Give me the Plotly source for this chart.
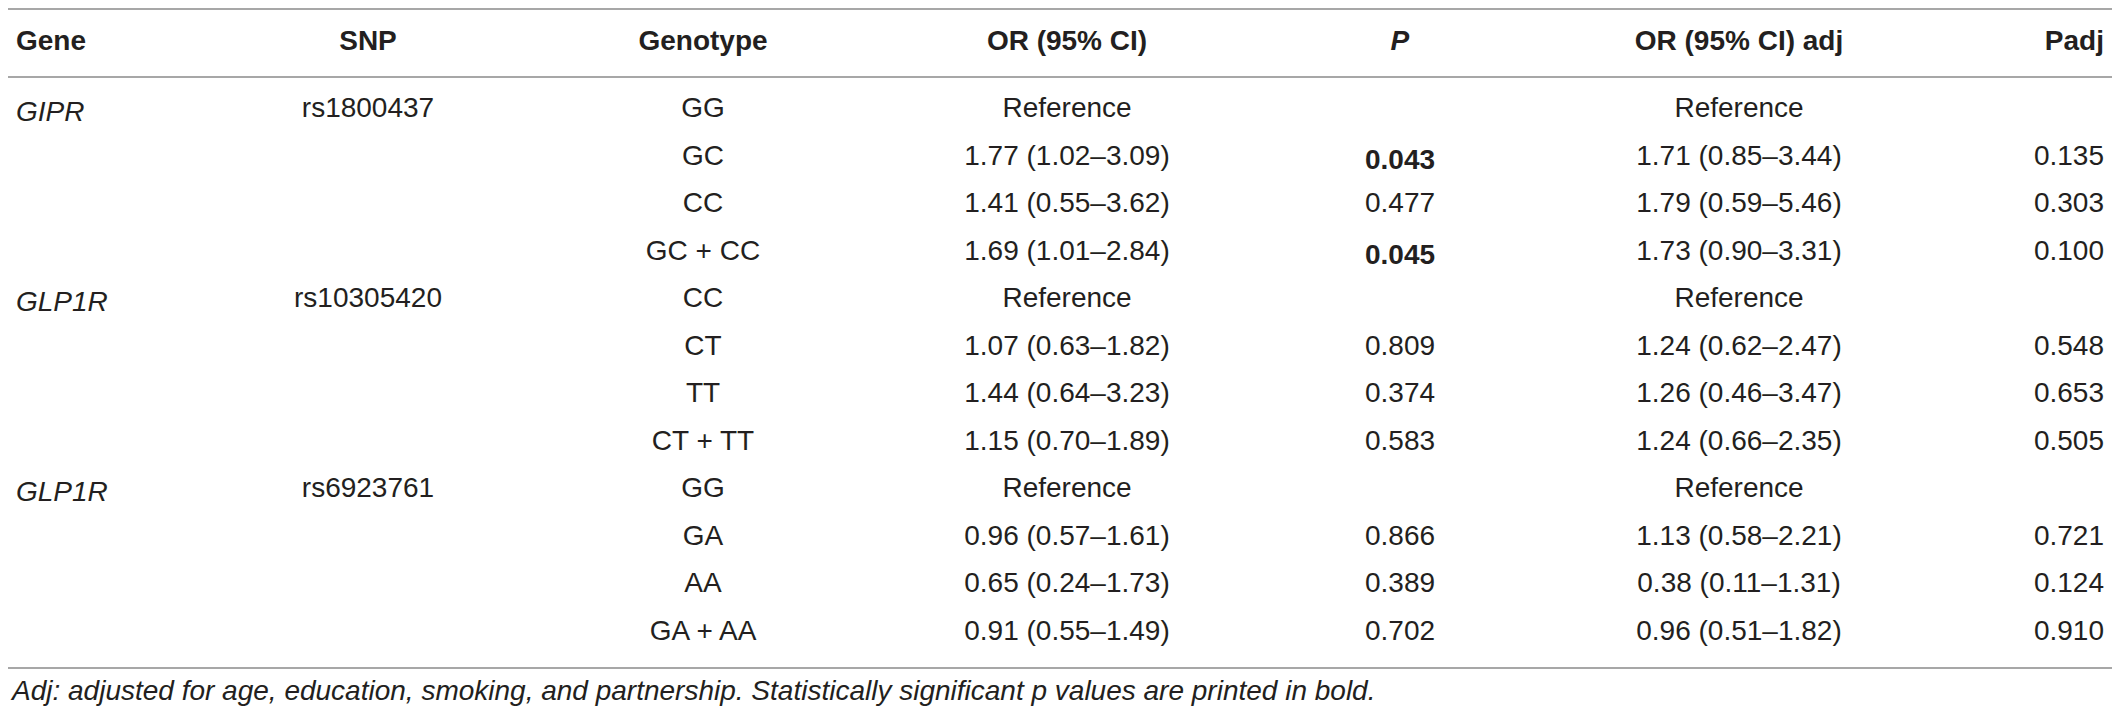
import plotly.graph_objects as go

# the page body keeps its default 8px margin, so the figure is drawn 8px in
# from the window edges; size it so that it fits the 2120x717 window exactly
OFF = 8
W, H = 2120 - 2 * OFF, 717 - 2 * OFF

# table content
genes = ["GIPR", "", "", "", "GLP1R", "", "", "", "GLP1R", "", "", ""]
snps = ["rs1800437", "", "", "", "rs10305420", "", "", "", "rs6923761", "", "", ""]
genotypes = ["GG", "GC", "CC", "GC + CC",
             "CC", "CT", "TT", "CT + TT",
             "GG", "GA", "AA", "GA + AA"]
or_ci = ["Reference", "1.77 (1.02–3.09)", "1.41 (0.55–3.62)", "1.69 (1.01–2.84)",
         "Reference", "1.07 (0.63–1.82)", "1.44 (0.64–3.23)", "1.15 (0.70–1.89)",
         "Reference", "0.96 (0.57–1.61)", "0.65 (0.24–1.73)", "0.91 (0.55–1.49)"]
p_vals = ["", "0.043", "0.477", "0.045",
          "", "0.809", "0.374", "0.583",
          "", "0.866", "0.389", "0.702"]
or_ci_adj = ["Reference", "1.71 (0.85–3.44)", "1.79 (0.59–5.46)", "1.73 (0.90–3.31)",
             "Reference", "1.24 (0.62–2.47)", "1.26 (0.46–3.47)", "1.24 (0.66–2.35)",
             "Reference", "1.13 (0.58–2.21)", "0.38 (0.11–1.31)", "0.96 (0.51–1.82)"]
p_adj = ["", "0.135", "0.303", "0.100",
         "", "0.548", "0.653", "0.505",
         "", "0.721", "0.124", "0.910"]
headers = ["Gene", "SNP", "Genotype", "OR (95% CI)", "<i>P</i>", "OR (95% CI) adj", "Padj"]
footnote = ("Adj: adjusted for age, education, smoking, and partnership. "
            "Statistically significant p values are printed in bold.")

FONT = "Liberation Sans"
TXT = "#231f20"
RULE = "#a7a7a7"


def bold_if_sig(v):
    if v and float(v) < 0.05:
        return "<b>" + v + "</b>"
    return v


def py(y):
    # window pixel row -> paper fraction
    return 1 - (y - OFF) / H


gene_cells = ["<i>" + g + "</i>" if g else "" for g in genes]
p_cells = [bold_if_sig(v) for v in p_vals]

fig = go.Figure(go.Table(
    domain=dict(x=[0, 1], y=[0, py(17)]),
    columnwidth=[228, 264, 406, 322, 344, 334, 206],
    header=dict(
        values=["<b>" + h + "</b>" for h in headers],
        align=["left", "center", "center", "center", "center", "center", "right"],
        height=71,
        fill_color="white",
        line=dict(color="white", width=0),
        font=dict(family=FONT, size=28, color=TXT),
    ),
    cells=dict(
        values=[gene_cells, snps, genotypes, or_ci, p_cells, or_ci_adj, p_adj],
        align=["left", "center", "center", "center", "center", "center", "right"],
        height=47.5,
        fill_color="white",
        line=dict(color="white", width=0),
        font=dict(family=FONT, size=28, color=TXT),
    ),
))

# horizontal rules (top, under header, bottom)
for yy in [9, 77, 668]:
    fig.add_shape(type="line", xref="paper", yref="paper",
                  x0=0, x1=1, y0=py(yy), y1=py(yy),
                  line=dict(color=RULE, width=2))

fig.add_annotation(
    text="<i>" + footnote + "</i>",
    xref="paper", yref="paper", x=0, y=py(690),
    xanchor="left", yanchor="middle", showarrow=False,
    font=dict(family=FONT, size=28, color=TXT),
)

fig.update_layout(
    width=W, height=H,
    margin=dict(l=0, r=0, t=0, b=0),
    paper_bgcolor="white",
    plot_bgcolor="white",
)

fig.write_html("out.html")
